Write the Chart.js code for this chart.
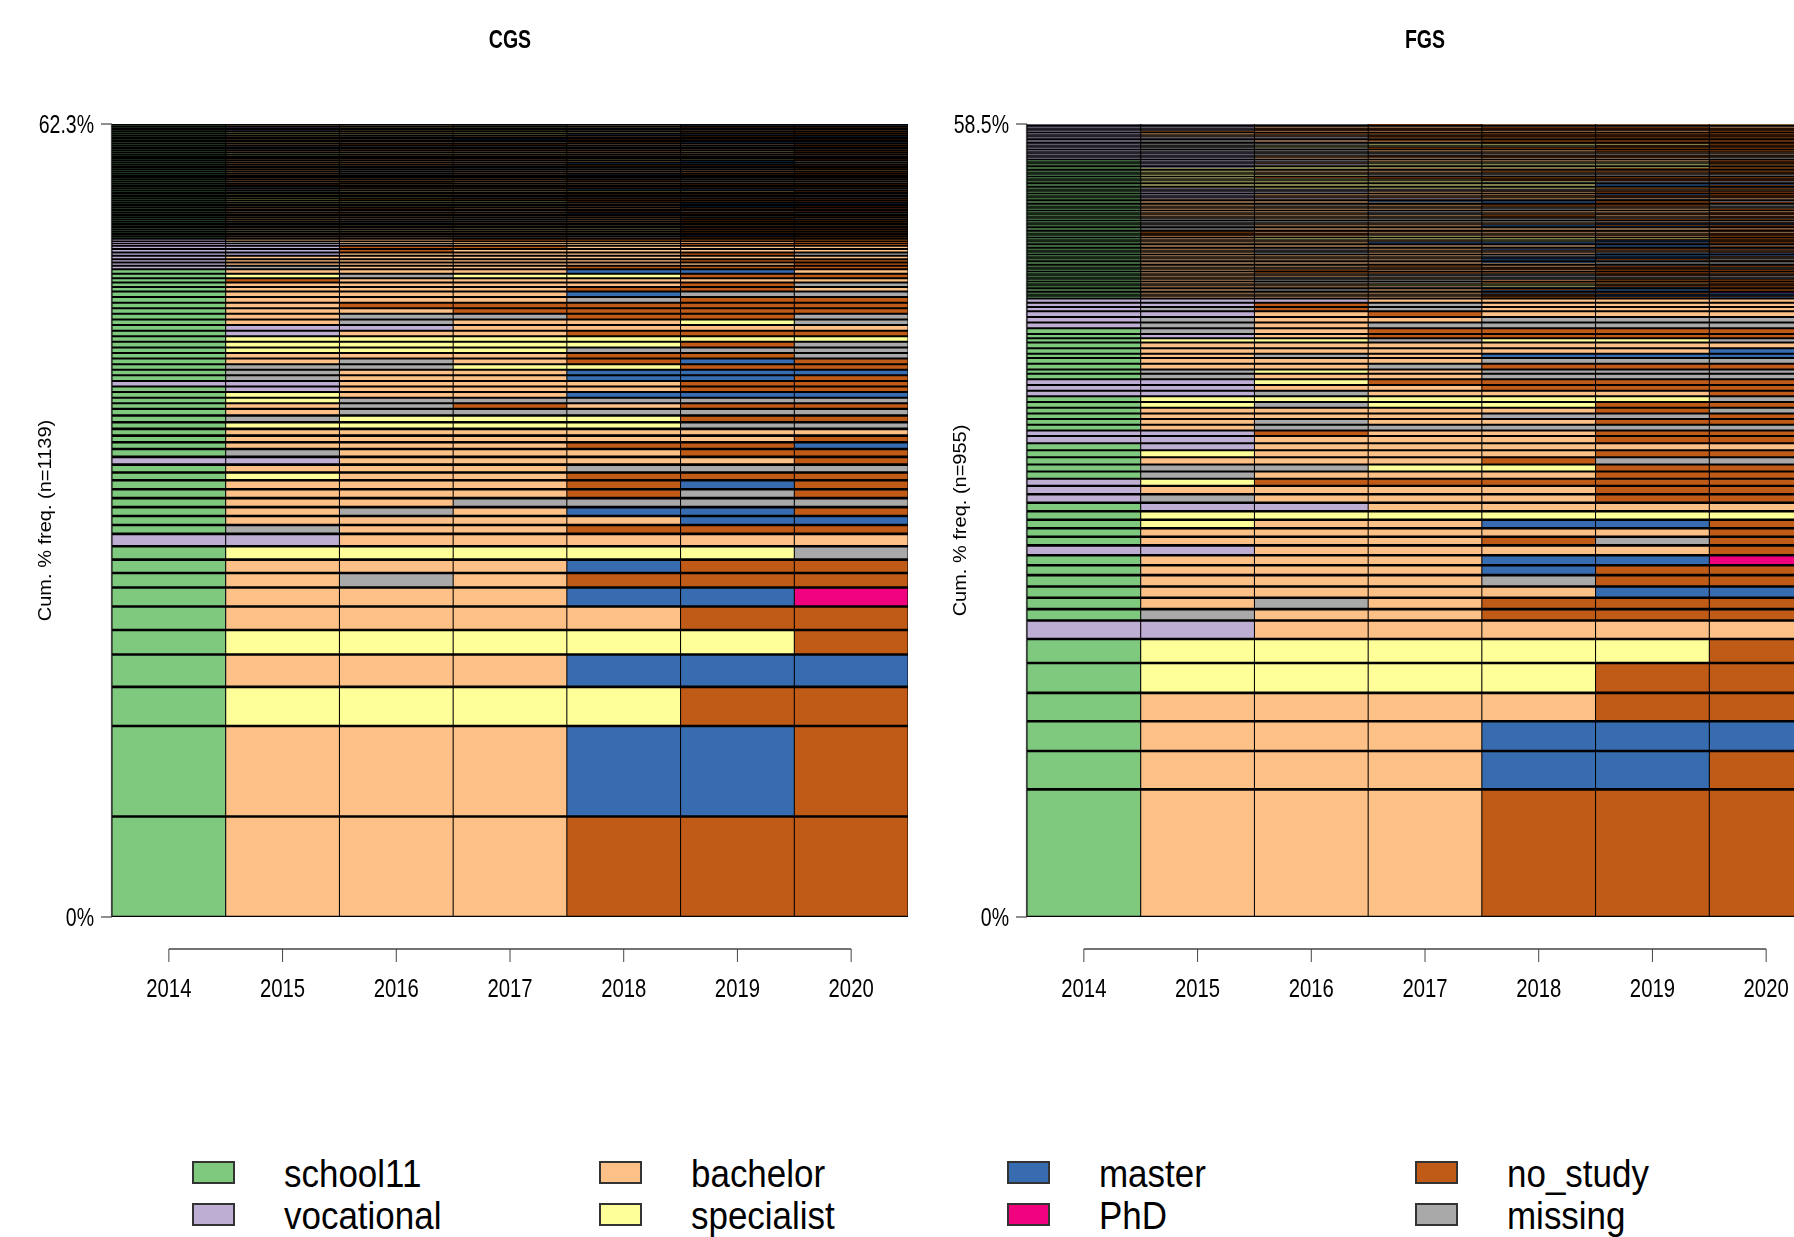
<!DOCTYPE html>
<html>
<head>
<meta charset="utf-8">
<script src="https://cdn.jsdelivr.net/npm/chart.js@4.4.1/dist/chart.umd.min.js"></script>
<style>
  html, body { margin:0; padding:0; background:#fff; }
  body { width:1794px; height:1237px; overflow:hidden; position:relative; font-family:"Liberation Sans", Arial, sans-serif; }
  .panel { position:absolute; top:0; width:940px; height:1010px; }
  .leg-box { position:absolute; width:43px; height:23px; box-sizing:border-box; border:2px solid #333; }
  .leg-txt { position:absolute; font-size:38px; line-height:38px; height:38px; white-space:nowrap; color:#000; transform-origin:left center; transform:scaleX(0.92); }
</style>
</head>
<body>
<div class="panel" id="pCGS" style="left:0px"><canvas id="cCGS" width="940" height="1010"></canvas></div>
<div class="panel" id="pFGS" style="left:915px"><canvas id="cFGS" width="940" height="1010"></canvas></div>
<div id="legend"></div>
<script>
// ---------- data ----------
const years = ['2014','2015','2016','2017','2018','2019','2020'];

// state alphabet: code letter -> label, colour
const stateCodes  = ['S','V','B','P','M','D','N','X'];
const stateNames  = ['school11','vocational','bachelor','specialist','master','PhD','no_study','missing'];
const stateColors = ['#7FC97F','#BEAED4','#FDC086','#FFFF99','#386CB0','#F0027F','#BF5B17','#A9A9A9'];

// CGS: sequences ordered from the bottom (most frequent) upward, with their counts
const cgsN = 1139;
const cgsSeq = [
 'SBBBNNN','SBBBMMN','SPPPPNN','SBBBMMM','SPPPPPN','SBBBBNN','SBBBMMD','SBXBNNN','SBBBMNN','SPPPPPX',
 'VVBBBBB','SXBBNNN','SBBBBMM','SBXBMMN','SBBXXXX','SBBBNXN','SBBBNMN','SPBBNNN','SBBBXXX','VVBBBBN',
 'SXBBBNN','SBBBNNM','SBBBBBN','SBBBBBB','SPPPPXX','SXPPPNN','SBXXXXX','SBXNBNN',
 'SPXXXXX','SPBBMMM','SVBBBNN','VVBBBNN','SXBBMMN','SXBBMMM','SXXPPNN','SBXBNMN','SBBBNNX','SPPPXXX',
 'SPPPPNX','SPPPPPP','SVBBNNN','SVVBBBB','SBXBBPX','SBXXNNX','SBBNNNN','SBNNNNN','SBBBXNN','SBBBMXX',
 'SBBBNNB','SBBBBNX','SNBBBBB','SPXPPNN','SBBBMMB',
 'VXBBNNN','VBBBBBN','VBBBBNN','VBBBBBB','VVBBBNX','VVNBBBB','VVNNBBB',
 'VVXBBNN','VXBBBBN','VBBNNNN'
];
const cgsCount = [
 90,81,35,29,22,21,17,13,12,12,
 11,8,8,8,8,8,8,7,7,7,
 7,6,6,6,6,6,6,5,
 5,5,5,5,5,5,5,5,5,5,
 5,5,5,5,5,5,5,5,5,5,
 4,4,4,4,4,
 3,3,3,3,3,3,3,
 2,2,2
];
// CGS sequences observed once each (top of the plot)
const cgsSingles = [
 'SBBBMNM','SBBXBNN','SBXBBNN','SBBBXMN','SBBBMXN','SPBBBNN','SPBBBBN','SPPBBNN','SBPPPNN','SBBPPNN',
 'SBBBPNN','SXBBBBN','SXBBBBB','SXBBBMM','SXXBBNN','SXXXBBN','SBXXBNN','SBBXBBN','SBBXBNX','SBBBXBN',
 'SBBBBXN','SBBBBXX','SBBBMNX','SBBBMNB','SBBBNBN','SBBBNBB','SBBNBBN','SBNBBNN','SBBNNNX','SBBBBMN',
 'SBBBBMX','SPPPPMM','SPPPPMN','SPPPNNN','SPPNNNN','SPNNNNN','SPPPXNN','SPPXXXX','SPXPPPN','SPBBNNX',
 'SPBBBMM','SPBBMMX','SXPPPPN','SXPPPPP','SXBBMMX','SXBBNNX','SXNNNNN','SNNNNNN','SNBBBNN','SNNBBBB',
 'SBNBBBB','SBBNBBB','SBBBNXX','SBBBXNX','SBBBXXN','SBXBNNX','SBXBMMM','SBXBMNN','SBXBBMM','SBXBBBN',
 'SBXBBBB','SBXXBBB','SBXXXBB','SBXXXXN','SBBXXXN','SBBXNNN','SBBXMMN','SBBBMMX','SBBBMBN','SBBBBMB',
 'SXBBMMB','SBBBPPN','SBBPBBN','SBPBBBN','SPBBBBB','SPPBBBB','SPPPBBN','SPPPPBN','SBBBBPN','SBBBBBX',
 'SXBBBBX','SXXXXXX','SXXXXXN','SXXXNNN','SBNNBBN','SBNNBNN','SBBBNMM','SBBXNMN','SBBMMNN','SBBMNNN',
 'SBBBBNM','SBXBBNM','SPPPPPM','SPPPMMN','SPPPMMM','SPBPPNN','SVBBBBN','SVBBBBB','SVVBBNN','SVPPPNN',
 'SXBXBNN','SBBXBMM','SBBBXMM'
];
const cgsYTicks = ['0%','62.3%'];

// FGS
const fgsN = 955;
const fgsSeq = [
 'SBBBNNN','SBBBMMN','SBBBMMM','SBBBBNN','SPPPPNN','SPPPPPN','VVBBBBB','SXBBNNN','SBXBNNN','SBBBBMM',
 'SBBBXNN','SBBBMNN','SBBBMMD','VVBBBBN','SBBBNXN','SBBBBBN','SPBBMMN','SPPPPPP','SVVBBBB','VXBBBNN',
 'VBBBBNN','VPNNNNN','SXBBBNN','SXXPPNN','SBBBNXX','SPBBBNN','SVBBBBB','VVBBBNN',
 'VVNBBNN','SBXXXXX','SBXBBNN','SBBBXXN','SBBBBNX','SPXPPNN','SPPPPPX','VVXBBBN','VVBBNNN','VVPNNNN',
 'SXBBXXX','SXPBXXX','SBBXNNN','SBBBXXX','SBXBMMM','SBBBBBM','SBBBBBB','SPPXPPX','SVBNNNN','SXBNNNN',
 'VXBXXXX','VXBBXXX','VVBNBBB','VXNXBBB','VVNXBBB','VVVBBBB'
];
const fgsCount = [
 90,27,21,20,21,17,13,8,8,8,
 8,7,7,7,6,6,6,6,6,6,
 6,5,5,5,5,5,5,5,
 4,4,4,4,4,4,4,4,4,4,
 4,3,4,4,3,4,4,3,3,4,
 4,4,4,3,3,3
];
const fgsSingles = [
 'SBBBNNM','SBBBNMN','SBBBNMM','SBBBMNM','SBBBNMD','SBXBMMN','SBXBNMN','SBBXMMN','SBBBPNN','SBBPPNN',
 'SBBBPPN','SBXXNNN','SBXXBNN','SBXXXNN','SBXBXXX','SBBXXXX','SBBXXNN','SBBBXNX','SBNNNNN','SBNBBNN',
 'SBBNNNN','SBBBNNX','SBBNBNN','SBBBBXN','SBBBBXX','SBBBMXX','SBBBMXN','SBBBMNX','SBBBMMX','SBBBXMN',
 'SBBBXMM','SBXBBMM','SBXBBBN','SBXBBBB','SBXBMNN','SBBBBNM','SBBBBMN','SBBBBMX','SBBMMNN','SBBMMMN',
 'SBBBPMN','SBPPPNN','SBPPPPN','SBBPBBN','SNBBBNN','SNNBBBN','SNBBBBB','SNNNNNN','SXBBBBN','SXBBBBB',
 'SXBBMMN','SXBBMNN','SXBBBMM','SXXBBNN','SXXXXXX','SXXXXNN','SXBXXXX','SBBBNBN','SBBBNBB','SBBXBNN',
 'SBBXBBN','SBBXBBB','SBBBXBN','SBBBXBB','SBBBBBX','SBXBNNX','SBBNNNX','SBBXMNN','SBBMMNX','SBBBBMB',
 'SVVVBBB','SVBBBNN','SVBBNNN','SVBBBMN','SVVBBNN','SVVBNNN','SVVVVBB','SVPPPNN','SPPPPPM','SPPPPMN',
 'SPPPPMM','SPPPXXX','SPPPPXX','SPPPNNN','SPPNNNN','SPNNNNN','SPPXXXX','SPXXXXX','SPBBBBN','SPBBNNN',
 'SPBBBBB','SPPBBNN','SVPPPPN','SVPPPPP','SVVPPPN','SVBPPPN','SVVBBBN','SVXBBBN',
 'VVBBBBX','VVBBNNX','VVBNNNN','VVXXXXX','VVXXBBB','VVXBBNN','VXXBBNN','VXXNNNN','VXPNNNN','VXPPPNN',
 'VXXPPPN','VXXXNNN','VXBBNNN','VXBNNNN','VVVBBNN','VVVNNNN','VBBNNNN','VBBBNNN','VBNNNNN','VNBBBBN',
 'VXNNNNN','VVNNNNN','VVBBNNB','VXXBBBB','VVXNBBB'
];
const fgsYTicks = ['0%','58.5%'];
const singleCount = 1;

// ---------- helpers ----------
function colorOf(code){ return stateColors[stateCodes.indexOf(code)]; }

function buildDatasets(seqs, counts, singles, n){
  const all = seqs.map((s,i)=>({s, c:counts[i]})).concat(singles.map(s=>({s, c:singleCount})));
  return all.map(({s,c})=>{
    const pct = c / n * 100;
    const bw = c >= 6 ? 1.3 : (c >= 3 ? 1 : (c === 2 ? 0.7 : 0.5));
    return {
      label: s,
      data: years.map(()=>pct),
      backgroundColor: s.split('').map(colorOf),
      borderColor: '#000',
      borderWidth: {top:bw, bottom:bw, left:0.5, right:0.5},
      borderSkipped: false,
      inflateAmount: 0,
      barPercentage: 1,
      categoryPercentage: 1
    };
  });
}

function condText(ctx, txt, x, y, font, align, sx){
  ctx.save();
  ctx.font = font;
  ctx.translate(x, y);
  ctx.scale(sx, 1);
  ctx.textAlign = align;
  ctx.textBaseline = 'alphabetic';
  ctx.fillStyle = '#000';
  ctx.fillText(txt, 0, 0);
  ctx.restore();
}

// R-style axes, title and y label, drawn from the chart's own scales
const rStyle = {
  id: 'rStyle',
  beforeDatasetsDraw(chart){
    const {ctx, scales:{x, y}} = chart;
    // black ground behind the bars: it shows through the sequence borders
    const l = x.getPixelForTick(0) - (x.getPixelForTick(1) - x.getPixelForTick(0))/2;
    const r = x.getPixelForTick(years.length-1) + (x.getPixelForTick(1) - x.getPixelForTick(0))/2;
    const t = y.getPixelForValue(y.max), b = y.getPixelForValue(0);
    ctx.save(); ctx.fillStyle = '#000'; ctx.fillRect(l, t, r - l, b - t); ctx.restore();
  },
  afterDraw(chart, args, o){
    const {ctx, chartArea:a, scales:{x, y}} = chart;
    ctx.save();
    condText(ctx, o.title, (a.left + a.right)/2, 48, 'bold 25px "Liberation Sans", Arial, sans-serif', 'center', 0.78);
    const y0 = y.getPixelForValue(0), y1 = y.getPixelForValue(y.max);
    ctx.strokeStyle = '#444'; ctx.lineWidth = 1.2;
    ctx.beginPath(); ctx.moveTo(a.left - 0.5, y0); ctx.lineTo(a.left - 0.5, y1); ctx.stroke();
    [[y0, o.yTicks[0]], [y1, o.yTicks[1]]].forEach(([py, t])=>{
      ctx.beginPath(); ctx.moveTo(a.left - 11, py); ctx.lineTo(a.left, py); ctx.stroke();
      condText(ctx, t, a.left - 18, py + 9, '25px "Liberation Sans", Arial, sans-serif', 'right', 0.78);
    });
    ctx.save();
    ctx.translate(46, (a.top + a.bottom)/2);
    ctx.rotate(-Math.PI/2);
    ctx.scale(1, 0.88);
    ctx.font = '20px "Liberation Sans", Arial, sans-serif';
    ctx.textAlign = 'center'; ctx.textBaseline = 'middle'; ctx.fillStyle = '#000';
    ctx.fillText(o.yTitle, 0, 0);
    ctx.restore();
    const ax = a.bottom + 32;
    const xf = x.getPixelForTick(0), xl = x.getPixelForTick(years.length - 1);
    ctx.strokeStyle = '#444'; ctx.lineWidth = 1.6;
    ctx.beginPath(); ctx.moveTo(xf, ax); ctx.lineTo(xl, ax); ctx.stroke();
    ctx.lineWidth = 1;
    years.forEach((yr, i)=>{
      const px = x.getPixelForTick(i);
      ctx.beginPath(); ctx.moveTo(px, ax); ctx.lineTo(px, ax + 13); ctx.stroke();
      condText(ctx, yr, px, ax + 48, '26px "Liberation Sans", Arial, sans-serif', 'center', 0.78);
    });
    ctx.restore();
  }
};

function makeChart(id, seqs, counts, singles, n, title, yTicks){
  const datasets = buildDatasets(seqs, counts, singles, n);
  const total = (counts.reduce((p,c)=>p+c,0) + singles.length*singleCount) / n * 100;
  return new Chart(document.getElementById(id), {
    type: 'bar',
    data: { labels: years, datasets },
    options: {
      responsive: false,
      animation: false,
      events: [],
      layout: { padding: { left:112, right:32, top:124, bottom:93 } },
      scales: {
        x: { display:false, stacked:true },
        y: { display:false, stacked:true, min:0, max: total }
      },
      plugins: {
        legend: { display:false },
        tooltip: { enabled:false },
        rStyle: { title, yTicks, yTitle: 'Cum. % freq. (n=' + n + ')' }
      }
    },
    plugins: [rStyle]
  });
}

makeChart('cCGS', cgsSeq, cgsCount, cgsSingles, cgsN, 'CGS', cgsYTicks);
makeChart('cFGS', fgsSeq, fgsCount, fgsSingles, fgsN, 'FGS', fgsYTicks);

// ---------- legend ----------
const legendOrder = ['school11','vocational','bachelor','specialist','master','PhD','no_study','missing'];
const legendColX = [192, 599, 1007, 1415];
const legendRowY = [1161, 1203];
const leg = document.getElementById('legend');
legendOrder.forEach((name, i)=>{
  const col = Math.floor(i/2), row = i % 2;
  const box = document.createElement('div');
  box.className = 'leg-box';
  box.style.left = legendColX[col] + 'px';
  box.style.top = legendRowY[row] + 'px';
  box.style.background = stateColors[stateNames.indexOf(name)];
  leg.appendChild(box);
  const t = document.createElement('div');
  t.className = 'leg-txt';
  t.textContent = name;
  t.style.left = (legendColX[col] + 92) + 'px';
  t.style.top = (legendRowY[row] - 6) + 'px';
  leg.appendChild(t);
});
</script>
</body>
</html>
